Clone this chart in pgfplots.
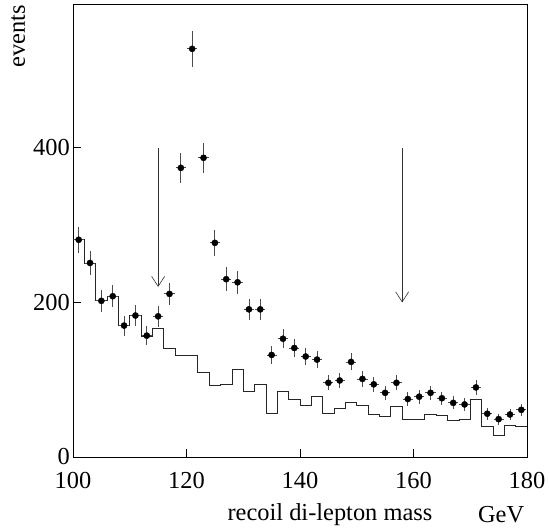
\documentclass[border=0pt]{standalone}
\usepackage{pgfplots}
\pgfplotsset{compat=1.18}
\usepackage{fontspec}
\setmainfont{Liberation Serif}
\usetikzlibrary{arrows.meta}

\begin{document}
\begin{tikzpicture}[x=1bp,y=1bp]
\begin{axis}[
    scale only axis,
    width=454bp, height=453bp,
    xmin=100, xmax=180,
    ymin=0, ymax=586,
    xtick={100,120,140,160,180},
    ytick={0,200,400},
    xtick pos=bottom, ytick pos=left,
    tick align=inside,
    major tick length=8bp,
    axis line style={line width=0.8bp},
    tick style={line width=0.8bp, black},
    tick label style={font=\fontsize{24.5}{28}\selectfont},
    /pgf/number format/assume math mode=true,
    xticklabel style={inner sep=0pt, yshift=-15bp},
    yticklabel style={inner sep=0pt, xshift=-3bp},
    clip=false,
]
% histogram (expected background), bins of 2 GeV, left edges
\addplot[const plot mark left, line width=0.8bp, black!85, mark=none] coordinates {
 (100,281) (102,251) (104,202) (106,208) (108,170) (110,183) (112,156) (114,167)
 (116,141) (118,131) (120,132) (122,110) (124,92) (126,94) (128,113) (130,85)
 (132,94) (134,57) (136,85) (138,74) (140,67) (142,79) (144,56) (146,63)
 (148,70) (150,67) (152,55) (154,52) (156,66) (158,48) (160,49) (162,55)
 (164,54) (166,47) (168,49) (170,74) (172,39) (174,28) (176,41) (178,40) (180,40)
};
% data points with errors
\addplot[only marks, mark=*, mark size=3.1bp, black,
    error bars/.cd, y dir=both, y explicit, x dir=both, x fixed=0.9,
    error mark=none, error bar style={line width=0.8bp, black!70}]
  coordinates {
 (101,281) +- (0,16.8) (103,251) +- (0,15.8) (105,202) +- (0,14.2) (107,208) +- (0,14.4)
 (109,170) +- (0,13.0) (111,183) +- (0,13.5) (113,157) +- (0,12.5) (115,182) +- (0,13.5)
 (117,211) +- (0,14.5) (119,374) +- (0,19.3) (121,528) +- (0,23.0) (123,387) +- (0,19.7)
 (125,277) +- (0,16.6) (127,230) +- (0,15.2) (129,226) +- (0,15.0) (131,191) +- (0,13.8)
 (133,191) +- (0,13.8) (135,132) +- (0,11.5) (137,153) +- (0,12.4) (139,141) +- (0,11.9)
 (141,130) +- (0,11.4) (143,126) +- (0,11.2) (145,96) +- (0,9.8) (147,99) +- (0,9.9)
 (149,123) +- (0,11.1) (151,101) +- (0,10.0) (153,94) +- (0,9.7) (155,83) +- (0,9.1)
 (157,96) +- (0,9.8) (159,75) +- (0,8.7) (161,78) +- (0,8.8) (163,83) +- (0,9.1)
 (165,76) +- (0,8.7) (167,70) +- (0,8.4) (169,68) +- (0,8.2) (171,90) +- (0,9.5)
 (173,56) +- (0,7.5) (175,49) +- (0,7.0) (177,55) +- (0,7.4) (179,61) +- (0,7.8)
};
% cut arrows
\draw[line width=0.6bp, black!80, -{Straight Barb[length=10bp,width=13bp]}] (axis cs:115,400) -- (axis cs:115,220);
\draw[line width=0.6bp, black!80, -{Straight Barb[length=10bp,width=13bp]}] (axis cs:158,400) -- (axis cs:158,200);
% labels
\node[font=\fontsize{24.5}{28}\selectfont, rotate=90] at (axis description cs:-0.121,0.929) {events};
\node[font=\fontsize{24.5}{28}\selectfont] at (axis description cs:0.566,-0.127) {recoil di-lepton mass};
\node[font=\fontsize{24.5}{28}\selectfont] at (axis description cs:0.943,-0.127) {GeV};
\end{axis}
\path (-73bp,-72bp) rectangle (477bp,457bp);
\end{tikzpicture}
\end{document}
